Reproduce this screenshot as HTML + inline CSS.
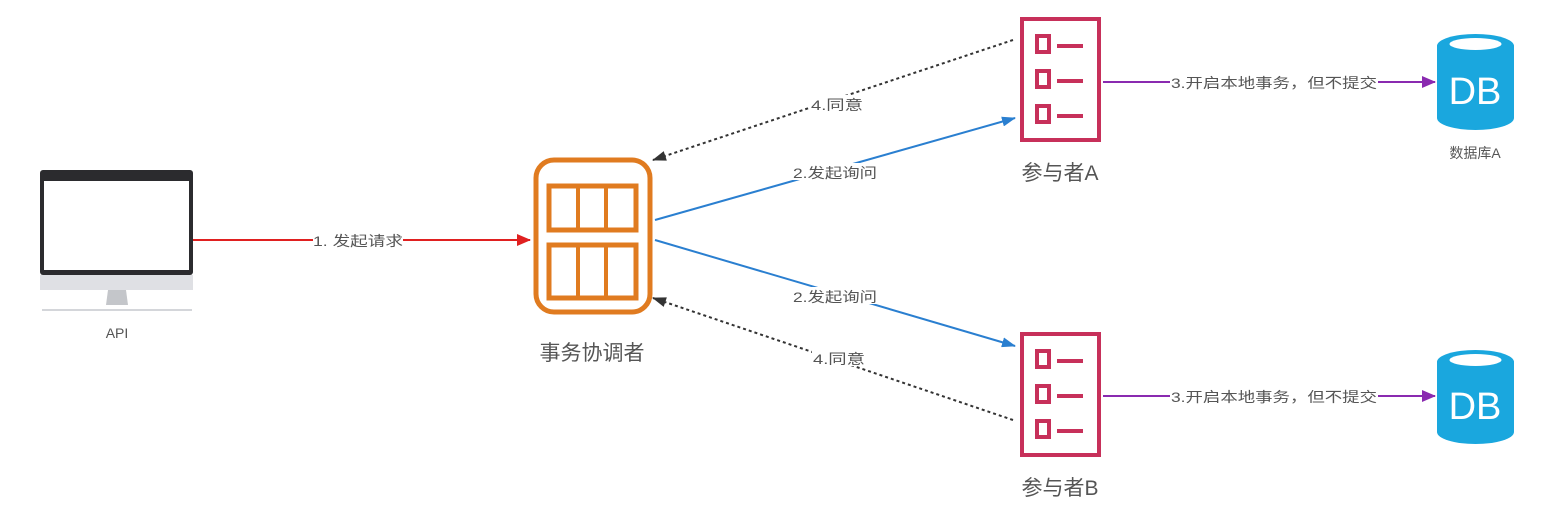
<!DOCTYPE html>
<html><head><meta charset="utf-8"><style>
html,body{margin:0;padding:0;background:#fff;}
svg text{font-family:"Liberation Sans","Noto Sans CJK SC",sans-serif;fill:#555;}
</style></head><body>
<svg width="1561" height="508" xmlns="http://www.w3.org/2000/svg">
<defs>
<marker id="ar" markerWidth="14" markerHeight="12" refX="13" refY="6" orient="auto" markerUnits="userSpaceOnUse"><path d="M0,0 L14,6 L0,12 Z" fill="#e02020"/></marker>
<marker id="ab" markerWidth="14" markerHeight="10" refX="13" refY="5" orient="auto" markerUnits="userSpaceOnUse"><path d="M0,0 L14,5 L0,10 Z" fill="#2a7fd0"/></marker>
<marker id="ap" markerWidth="14" markerHeight="12" refX="13" refY="6" orient="auto" markerUnits="userSpaceOnUse"><path d="M0,0 L14,6 L0,12 Z" fill="#8a2ab0"/></marker>
<marker id="ak" markerWidth="14" markerHeight="10" refX="13" refY="5" orient="auto" markerUnits="userSpaceOnUse"><path d="M0,0 L14,5 L0,10 Z" fill="#333"/></marker>
</defs>
<!-- monitor -->
<rect x="40" y="170" width="153" height="105" rx="3" fill="#2b2b2e"/>
<rect x="44" y="181" width="145" height="89" fill="#fff"/>
<rect x="40" y="275" width="153" height="15" fill="#dfe0e4"/>
<path d="M108,290 L126,290 L128,305 L106,305 Z" fill="#c4c6ca"/>
<rect x="42" y="309" width="150" height="2" fill="#d4d6da"/>
<text x="117" y="338" font-size="14" text-anchor="middle">API</text>
<!-- red arrow -->
<line x1="193" y1="240" x2="530" y2="240" stroke="#e02020" stroke-width="2" marker-end="url(#ar)"/>
<rect x="313" y="231" width="90" height="17" fill="#fff"/>
<text x="313" y="246" font-size="14" textLength="90" lengthAdjust="spacingAndGlyphs">1. 发起请求</text>
<!-- coordinator -->
<rect x="536" y="160" width="114" height="152" rx="18" fill="none" stroke="#e07b20" stroke-width="5"/>
<rect x="549" y="186" width="87" height="44" fill="none" stroke="#e07b20" stroke-width="5"/>
<line x1="578" y1="186" x2="578" y2="230" stroke="#e07b20" stroke-width="4"/>
<line x1="606" y1="186" x2="606" y2="230" stroke="#e07b20" stroke-width="4"/>
<rect x="549" y="245" width="87" height="53" fill="none" stroke="#e07b20" stroke-width="5"/>
<line x1="578" y1="245" x2="578" y2="298" stroke="#e07b20" stroke-width="4"/>
<line x1="606" y1="245" x2="606" y2="298" stroke="#e07b20" stroke-width="4"/>
<text x="592" y="360" font-size="21" text-anchor="middle">事务协调者</text>
<!-- blue -->
<line x1="655" y1="220" x2="1015" y2="118" stroke="#2a7fd0" stroke-width="2" marker-end="url(#ab)"/>
<line x1="655" y1="240" x2="1015" y2="346" stroke="#2a7fd0" stroke-width="2" marker-end="url(#ab)"/>
<rect x="792" y="163" width="86" height="17" fill="#fff"/>
<text x="793" y="178" font-size="14" textLength="84" lengthAdjust="spacingAndGlyphs">2.发起询问</text>
<rect x="792" y="287" width="86" height="17" fill="#fff"/>
<text x="793" y="302" font-size="14" textLength="84" lengthAdjust="spacingAndGlyphs">2.发起询问</text>
<!-- dotted -->
<line x1="1013" y1="40" x2="653" y2="160" stroke="#333" stroke-width="2" stroke-dasharray="3,3" marker-end="url(#ak)"/>
<line x1="1013" y1="420" x2="653" y2="298" stroke="#333" stroke-width="2" stroke-dasharray="3,3" marker-end="url(#ak)"/>
<rect x="810" y="95" width="54" height="17" fill="#fff"/>
<text x="811" y="110" font-size="14" textLength="52" lengthAdjust="spacingAndGlyphs">4.同意</text>
<rect x="812" y="349" width="54" height="17" fill="#fff"/>
<text x="813" y="364" font-size="14" textLength="52" lengthAdjust="spacingAndGlyphs">4.同意</text>
<!-- participant A -->
<g fill="none" stroke="#c7305a">
<rect x="1022" y="19" width="77" height="121" stroke-width="4"/>
<rect x="1037" y="36" width="12" height="16" stroke-width="4"/><line x1="1057" y1="46" x2="1083" y2="46" stroke-width="4"/>
<rect x="1037" y="71" width="12" height="16" stroke-width="4"/><line x1="1057" y1="81" x2="1083" y2="81" stroke-width="4"/>
<rect x="1037" y="106" width="12" height="16" stroke-width="4"/><line x1="1057" y1="116" x2="1083" y2="116" stroke-width="4"/>
</g>
<text x="1060" y="180" font-size="21" text-anchor="middle">参与者A</text>
<!-- participant B -->
<g fill="none" stroke="#c7305a">
<rect x="1022" y="334" width="77" height="121" stroke-width="4"/>
<rect x="1037" y="351" width="12" height="16" stroke-width="4"/><line x1="1057" y1="361" x2="1083" y2="361" stroke-width="4"/>
<rect x="1037" y="386" width="12" height="16" stroke-width="4"/><line x1="1057" y1="396" x2="1083" y2="396" stroke-width="4"/>
<rect x="1037" y="421" width="12" height="16" stroke-width="4"/><line x1="1057" y1="431" x2="1083" y2="431" stroke-width="4"/>
</g>
<text x="1060" y="495" font-size="21" text-anchor="middle">参与者B</text>
<!-- purple -->
<line x1="1103" y1="82" x2="1435" y2="82" stroke="#8a2ab0" stroke-width="2" marker-end="url(#ap)"/>
<rect x="1170" y="73" width="208" height="17" fill="#fff"/>
<text x="1171" y="88" font-size="14" textLength="206" lengthAdjust="spacingAndGlyphs">3.开启本地事务，但不提交</text>
<line x1="1103" y1="396" x2="1435" y2="396" stroke="#8a2ab0" stroke-width="2" marker-end="url(#ap)"/>
<rect x="1170" y="387" width="208" height="17" fill="#fff"/>
<text x="1171" y="402" font-size="14" textLength="206" lengthAdjust="spacingAndGlyphs">3.开启本地事务，但不提交</text>
<!-- DB A -->
<path d="M1437,46 A38.5,12 0 0 1 1514,46 L1514,118 A38.5,12 0 0 1 1437,118 Z" fill="#1aa7de"/>
<ellipse cx="1475.5" cy="44" rx="26" ry="6" fill="#fff"/>
<text x="1475" y="104" font-size="38" text-anchor="middle" style="fill:#fff">DB</text>
<text x="1475" y="158" font-size="14" text-anchor="middle">数据库A</text>
<!-- DB B -->
<path d="M1437,362 A38.5,12 0 0 1 1514,362 L1514,432 A38.5,12 0 0 1 1437,432 Z" fill="#1aa7de"/>
<ellipse cx="1475.5" cy="360" rx="26" ry="6" fill="#fff"/>
<text x="1475" y="419" font-size="38" text-anchor="middle" style="fill:#fff">DB</text>
</svg>
</body></html>
